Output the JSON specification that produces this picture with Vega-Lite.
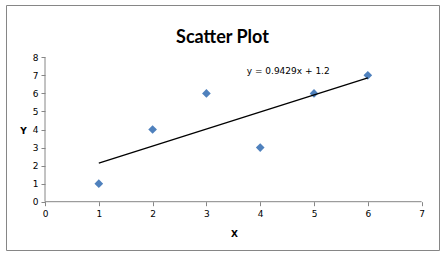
{
  "$schema": "https://vega.github.io/schema/vega-lite/v6.json",
  "width": 433,
  "height": 245,
  "autosize": "none",
  "padding": {"left": 6, "top": 5, "right": 8, "bottom": 6},
  "background": "white",
  "config": {
    "view": {"stroke": "#868686", "strokeWidth": 1},
    "axis": {"labelFont": "DejaVu Sans", "labelFontSize": 9, "labelColor": "#000000", "titleFont": "DejaVu Sans", "titleFontSize": 9, "titleFontWeight": "bold", "titleColor": "#000000", "grid": false, "domain": false, "tickColor": "#868686", "tickSize": 4}
  },
  "title": {"text": "Scatter Plot", "font": "Lato", "fontSize": 18, "fontWeight": "bold", "color": "#000000", "anchor": "middle", "offset": -36, "dy": 6},
  "datasets": {
    "pts": [
      {"x": 1, "y": 1}, {"x": 2, "y": 4}, {"x": 3, "y": 6},
      {"x": 4, "y": 3}, {"x": 5, "y": 6}, {"x": 6, "y": 7}
    ]
  },
  "encoding": {
    "x": {"field": "x", "type": "quantitative", "scale": {"domain": [-0.725, 7.323], "nice": false, "zero": false},
      "axis": {"values": [0,1,2,3,4,5,6,7], "labelOverlap": false, "offset": -48.3, "title": "X", "titleX": 228, "titleY": 32, "titleBaseline": "middle", "labelPadding": 4}},
    "y": {"field": "y", "type": "quantitative", "scale": {"domain": [-2.676, 10.898], "nice": false, "zero": false},
      "axis": {"values": [0,1,2,3,4,5,6,7,8], "labelOverlap": false, "offset": -39, "title": "Y", "titleAngle": 0, "titleX": -22, "titleY": 125, "titleAlign": "center", "titleBaseline": "middle", "labelPadding": 3}}
  },
  "layer": [
    {
      "data": {"name": "pts"},
      "mark": {"type": "point", "shape": "diamond", "filled": true, "color": "#4F81BD", "size": 75, "opacity": 1}
    },
    {
      "data": {"name": "pts"},
      "transform": [{"regression": "y", "on": "x", "extent": [1, 6]}],
      "mark": {"type": "line", "color": "#000000", "strokeWidth": 1.3}
    },
    {
      "data": {"values": [{"x": 0, "x2": 7, "y": 0, "y2": 0}, {"x": 0, "x2": 0, "y": 0, "y2": 8}]},
      "mark": {"type": "rule", "color": "#868686", "strokeWidth": 1},
      "encoding": {"x2": {"field": "x2"}, "y2": {"field": "y2"}}
    },
    {
      "data": {"values": [{"x": 4.52, "y": 7.24, "label": "y = 0.9429x + 1.2"}]},
      "mark": {"type": "text", "font": "DejaVu Sans", "fontSize": 9, "color": "#000000", "align": "center", "baseline": "middle"},
      "encoding": {"text": {"field": "label"}}
    }
  ]
}
